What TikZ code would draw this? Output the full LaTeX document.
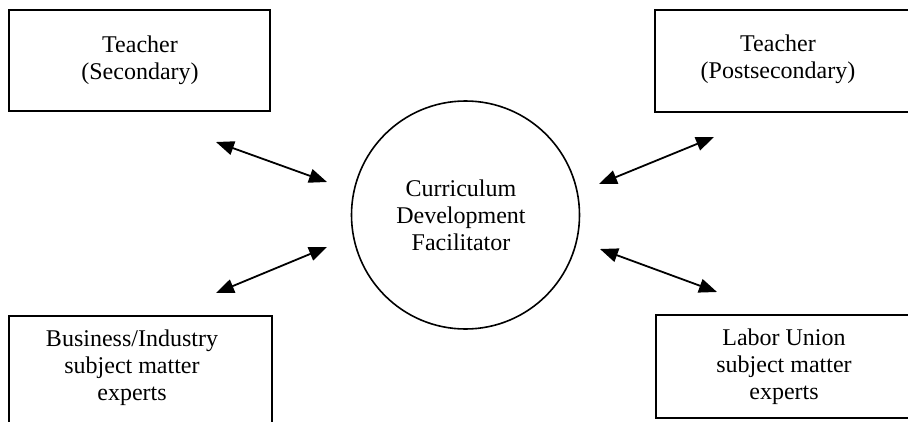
\documentclass[tikz,border=0pt]{standalone}
\usepackage{fontspec}
\setmainfont{Liberation Serif}
\usetikzlibrary{arrows.meta}
\begin{document}
\begin{tikzpicture}[x=1pt,y=-1pt,
  boxshape/.style={draw,line width=1.6pt,rectangle,inner sep=0pt},
  labeltext/.style={align=center,inner sep=0pt,font=\fontsize{24}{27}\selectfont},
  link/.style={line width=1.8pt,{Triangle[length=18pt,width=14pt]}-{Triangle[length=18pt,width=14pt]}}]
\useasboundingbox (0,0) rectangle (908,421);
\begin{scope}
\clip (0,0) rectangle (908,421);
% boxes
\node[boxshape,minimum width=305pt,minimum height=102pt] (tr) at (807.5,61) {};
\node[boxshape,minimum width=305pt,minimum height=103pt] (br) at (808.5,366.5) {};
\node[boxshape,minimum width=263pt,minimum height=130pt] (bl) at (140.5,381) {};
\end{scope}
\node[boxshape,minimum width=261pt,minimum height=101pt] (tl) at (139.5,60.5) {};
\node[draw,line width=1.6pt,circle,minimum size=228pt,inner sep=0pt] (c) at (465.5,215) {};
% texts
\node[labeltext] (tlt) at (140,60) {Teacher\\(Secondary)};
\node[labeltext] (trt) at (778,59) {Teacher\\(Postsecondary)};
\node[labeltext] (blt) at (132,368) {Business/Industry\\subject matter\\experts};
\node[labeltext] (brt) at (784,367) {Labor Union\\subject matter\\experts};
\node[labeltext] (ct) at (461,215) {Curriculum\\Development\\Facilitator};
% arrow ends
\coordinate (a1) at (216,142);
\coordinate (a2) at (327,182);
\coordinate (b1) at (216,293);
\coordinate (b2) at (327,247);
\coordinate (c1) at (599,184);
\coordinate (c2) at (714,137);
\coordinate (d1) at (600,249);
\coordinate (d2) at (717,292);
\draw[link] (a1) -- (a2);
\draw[link] (b1) -- (b2);
\draw[link] (c1) -- (c2);
\draw[link] (d1) -- (d2);
\end{tikzpicture}
\end{document}
